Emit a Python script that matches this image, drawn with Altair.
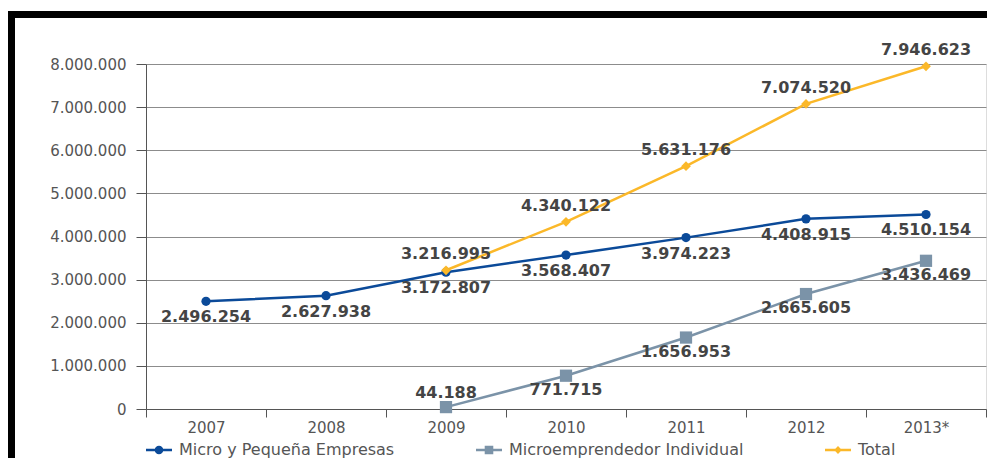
import altair as alt
import pandas as pd

years = ["2007", "2008", "2009", "2010", "2011", "2012", "2013*"]
series_names = ["Micro y Pequeña Empresas", "Microemprendedor Individual", "Total"]
micro = [2496254, 2627938, 3172807, 3568407, 3974223, 4408915, 4510154]
mei = [None, None, 44188, 771715, 1656953, 2665605, 3436469]
total = [None, None, 3216995, 4340122, 5631176, 7074520, 7946623]
colors = ["#0b4a99", "#7b93a8", "#fbb829"]
y_ticks = [0, 1000000, 2000000, 3000000, 4000000, 5000000, 6000000, 7000000, 8000000]

rows = []
for name, vals in zip(series_names, [micro, mei, total]):
    for yr, v in zip(years, vals):
        if v is not None:
            rows.append({"year": yr, "serie": name, "value": v,
                         "label": f"{v:,}".replace(",", ".")})
df = pd.DataFrame(rows)

FONT = "DejaVu Sans"
GRID = "#8c8c8c"
AX = "#555555"

xenc = alt.X("year:O", sort=years, scale=alt.Scale(type="band", paddingInner=0, paddingOuter=0),
             axis=alt.Axis(title=None, tickBand="extent", grid=False, tickSize=8, labelPadding=3,
                           labelFontSize=15, labelColor=AX, labelFont=FONT, domainColor=AX,
                           tickColor=AX, labelAngle=0))
yenc = alt.Y("value:Q", scale=alt.Scale(domain=[0, 8000000], nice=False),
             axis=alt.Axis(title=None, values=y_ticks, grid=True, gridColor=GRID, gridWidth=1,
                           tickSize=10, tickColor=AX, domainColor=AX, labelPadding=10,
                           labelFontSize=15, labelColor=AX, labelFont=FONT,
                           labelExpr="replace(format(datum.value, ','), /,/g, '.')"))
cenc = alt.Color("serie:N", scale=alt.Scale(domain=series_names, range=colors), title=None)

base = alt.Chart(df)

lines = base.mark_line(strokeWidth=2.5).encode(x=xenc, y=yenc, color=cenc, detail="serie:N")

shape_defs = [("Microemprendedor Individual", "square", 150),
              ("Micro y Pequeña Empresas", "circle", 85),
              ("Total", "diamond", 95)]
point_layers = []
for name, shp, sz in shape_defs:
    point_layers.append(
        base.transform_filter(alt.datum.serie == name)
        .mark_point(shape=shp, filled=True, size=sz, opacity=1)
        .encode(x=xenc, y=yenc, color=cenc)
    )

leg_circle = "M-1,-0.1H1V0.1H-1Z M0.33,0A0.33,0.33 0 1,1 -0.33,0A0.33,0.33 0 1,1 0.33,0Z"
leg_square = "M-1,-0.1H1V0.1H-1Z M-0.33,-0.33H0.33V0.33H-0.33Z"
leg_diamond = "M-1,-0.1H1V0.1H-1Z M0,-0.3L0.3,0L0,0.3L-0.3,0Z"

legend_layer = base.transform_filter("false").mark_point(filled=True).encode(
    x=xenc, y=yenc, color=cenc,
    shape=alt.Shape("serie:N", title=None,
                    scale=alt.Scale(domain=series_names, range=[leg_circle, leg_square, leg_diamond]),
                    legend=alt.Legend(orient="none", legendX=0, legendY=373, direction="horizontal",
                                      symbolSize=676, symbolStrokeWidth=0, symbolOpacity=1,
                                      labelFontSize=16, labelFont=FONT, labelColor=AX,
                                      labelOffset=7, columnPadding=81, padding=0, labelLimit=400)))

txt_kw = dict(font=FONT, fontSize=16, fontWeight="bold", color="#444444", baseline="middle")
t_total = base.transform_filter(alt.datum.serie == "Total").mark_text(dy=-16, **txt_kw).encode(
    x=xenc, y=yenc, text="label:N")
t_micro = base.transform_filter(alt.datum.serie == "Micro y Pequeña Empresas").mark_text(dy=16, **txt_kw).encode(
    x=xenc, y=yenc, text="label:N")
t_mei_up = base.transform_filter("datum.serie == 'Microemprendedor Individual' && datum.year == '2009'").mark_text(
    dy=-14, **txt_kw).encode(x=xenc, y=yenc, text="label:N")
t_mei_dn = base.transform_filter("datum.serie == 'Microemprendedor Individual' && datum.year != '2009'").mark_text(
    dy=14, **txt_kw).encode(x=xenc, y=yenc, text="label:N")

frame_df = pd.DataFrame({"k": [0]})
frame_top = alt.Chart(frame_df).mark_rule(color="black", strokeWidth=7).encode(
    x=alt.value(-139), x2=alt.value(849), y=alt.value(-49.5))
frame_left = alt.Chart(frame_df).mark_rule(color="black", strokeWidth=8).encode(
    x=alt.value(-135), y=alt.value(-53), y2=alt.value(400))

chart = alt.layer(lines, *point_layers, legend_layer, t_total, t_micro, t_mei_up, t_mei_dn,
                  frame_top, frame_left).properties(
    width=840, height=345,
    padding={"left": 138, "top": 56, "right": 1, "bottom": 49},
    autosize=alt.AutoSizeParams(type="none"),
).configure_view(stroke=GRID, strokeWidth=1).configure(background="white")

chart.save("out.html", embed_options={"renderer": "svg", "actions": False})
